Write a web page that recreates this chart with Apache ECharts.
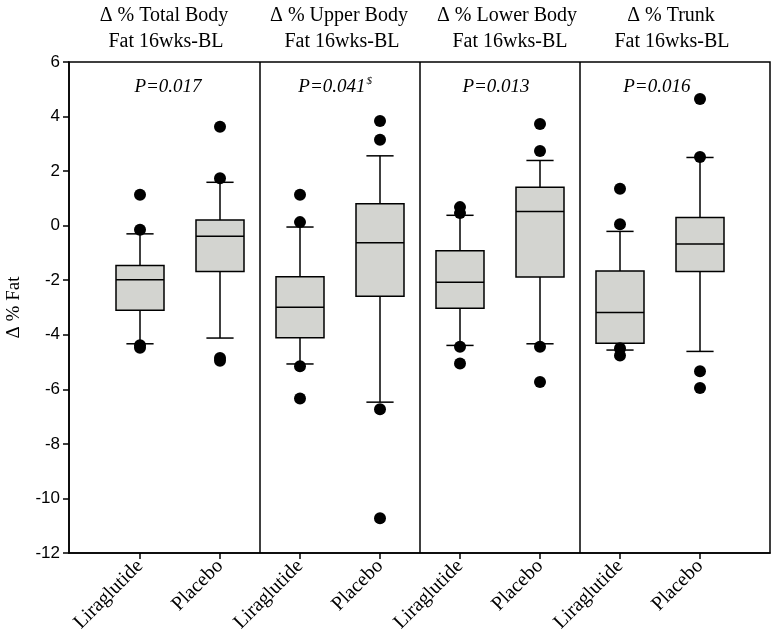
<!DOCTYPE html>
<html>
<head>
<meta charset="utf-8">
<script src="https://cdn.jsdelivr.net/npm/echarts@6/dist/echarts.min.js"></script>
<style>html,body{margin:0;padding:0;background:#fff}#c{width:772px;height:637px}</style>
</head>
<body>
<div id="c"></div>
<script>
// Categories (x positions 1..8)
var categories = ['Liraglutide','Placebo','Liraglutide','Placebo','Liraglutide','Placebo','Liraglutide','Placebo'];
// Box stats: [lowWhisker, Q1, median, Q3, highWhisker]
var boxStats = [
  [-4.33, -3.10, -1.98, -1.46, -0.30],
  [-4.12, -1.68, -0.39,  0.21,  1.59],
  [-5.07, -4.11, -2.99, -1.87, -0.05],
  [-6.47, -2.59, -0.63,  0.80,  2.56],
  [-4.39, -3.03, -2.07, -0.92,  0.38],
  [-4.33, -1.88,  0.52,  1.41,  2.39],
  [-4.56, -4.31, -3.18, -1.66, -0.21],
  [-4.61, -1.68, -0.67,  0.30,  2.50]
];
// Outliers per category
var outliers = [
  [1.13, -0.15, -4.38, -4.48],
  [3.63, 1.74, -4.85, -4.95],
  [1.13, 0.13, -5.15, -6.34],
  [3.84, 3.15, -6.73, -10.73],
  [0.68, 0.46, -4.44, -5.05],
  [3.73, 2.74, -4.44, -5.73],
  [1.35, 0.05, -4.49, -4.76],
  [4.64, 2.52, -5.34, -5.95]
];
var panelTitles = [
  ['\u0394 % Total Body', 'Fat 16wks-BL'],
  ['\u0394 % Upper Body', 'Fat 16wks-BL'],
  ['\u0394 % Lower Body', 'Fat 16wks-BL'],
  ['\u0394 % Trunk', 'Fat 16wks-BL']
];
var pValues = ['P=0.017', 'P=0.041', 'P=0.013', 'P=0.016'];
var pSup = ['', '$', '', ''];
var pX = [1.35, 3.44, 5.45, 7.46];
var pY = 5.12;
var separators = [2.5, 4.5, 6.5];
var yTicks = {min: -12, max: 6, interval: 2};

var boxData = boxStats.map(function(s, i){ return [i + 1].concat(s); });
var outData = [];
outliers.forEach(function(arr, i){ arr.forEach(function(v){ outData.push([i + 1, v]); }); });
var pData = pValues.map(function(p, i){ return [pX[i], pY, p, pSup[i]]; });

var chart = echarts.init(document.getElementById('c'));
var serif = '"Liberation Serif", "DejaVu Serif", serif';
var sans = '"Liberation Sans", Arial, sans-serif';

var graphics = [];
var titleX = [[164, 166], [339, 342], [507, 510], [671, 672]];
panelTitles.forEach(function(t, i){
  graphics.push({type:'text', x: titleX[i][0], y: 16, style:{text: t[0], font: '20px ' + serif, fill:'#000', textAlign:'center', textVerticalAlign:'middle'}});
  graphics.push({type:'text', x: titleX[i][1], y: 42, style:{text: t[1], font: '20px ' + serif, fill:'#000', textAlign:'center', textVerticalAlign:'middle'}});
});

chart.setOption({
  backgroundColor: '#ffffff',
  animation: false,
  grid: {left: 69, right: 2, top: 62, bottom: 84, containLabel: false, outerBoundsMode: 'none', show: true, borderColor: '#000', borderWidth: 1.5, backgroundColor: 'transparent'},
  xAxis: {
    type: 'value', min: 0.1125, max: 8.875,
    splitLine: {show: false},
    axisLine: {show: true, onZero: false, lineStyle: {color: '#000', width: 1.5}},
    axisTick: {show: true, customValues: [1,2,3,4,5,6,7,8], length: 6, lineStyle: {color: '#000', width: 1.5}},
    axisLabel: {show: true, customValues: [1,2,3,4,5,6,7,8], rotate: 45, margin: 10, color: '#000', fontFamily: serif, fontSize: 20,
      formatter: function(v){ return categories[Math.round(v) - 1] || ''; }}
  },
  yAxis: {
    type: 'value', min: yTicks.min, max: yTicks.max, interval: yTicks.interval,
    name: '\u0394 % Fat', nameLocation: 'middle', nameGap: 45, nameRotate: 90,
    nameTextStyle: {fontFamily: serif, fontSize: 19, color: '#000'},
    splitLine: {show: false},
    axisLine: {show: true, lineStyle: {color: '#000', width: 1.5}},
    axisTick: {show: true, length: 6, lineStyle: {color: '#000', width: 1.5}},
    axisLabel: {color: '#000', fontFamily: sans, fontSize: 17, margin: 9}
  },
  graphic: graphics,
  series: [
    {
      type: 'custom',
      data: boxData,
      encode: {x: 0, y: [1,2,3,4,5]},
      z: 2,
      renderItem: function(params, api){
        var x = api.value(0);
        var lo = api.coord([x, api.value(1)]);
        var q1 = api.coord([x, api.value(2)]);
        var md = api.coord([x, api.value(3)]);
        var q3 = api.coord([x, api.value(4)]);
        var hi = api.coord([x, api.value(5)]);
        var bw = api.size([0.6, 0])[0];
        var cw = api.size([0.34, 0])[0];
        var ls = {stroke: '#000', lineWidth: 1.5};
        var cx = lo[0];
        return {type: 'group', children: [
          {type:'line', shape:{x1:cx, y1:hi[1], x2:cx, y2:q3[1]}, style: ls},
          {type:'line', shape:{x1:cx, y1:q1[1], x2:cx, y2:lo[1]}, style: ls},
          {type:'line', shape:{x1:cx - cw/2, y1:hi[1], x2:cx + cw/2, y2:hi[1]}, style: ls},
          {type:'line', shape:{x1:cx - cw/2, y1:lo[1], x2:cx + cw/2, y2:lo[1]}, style: ls},
          {type:'rect', shape:{x: cx - bw/2, y: q3[1], width: bw, height: q1[1] - q3[1]}, style:{fill:'#d3d4d0', stroke:'#000', lineWidth: 1.5}},
          {type:'line', shape:{x1:cx - bw/2, y1:md[1], x2:cx + bw/2, y2:md[1]}, style: ls}
        ]};
      }
    },
    {
      type: 'scatter',
      data: outData,
      symbol: 'circle',
      symbolSize: 12,
      itemStyle: {color: '#000', opacity: 1},
      z: 3,
      markLine: {
        silent: true, symbol: 'none',
        label: {show: false},
        lineStyle: {color: '#000', width: 1.5, type: 'solid', opacity: 1},
        data: separators.map(function(s){ return {xAxis: s}; })
      }
    },
    {
      type: 'scatter',
      data: pData,
      symbolSize: 0,
      silent: true,
      z: 4,
      itemStyle: {opacity: 1},
      label: {
        show: true, position: 'inside', opacity: 1,
        formatter: function(p){ return '{m|' + p.data[2] + '}' + (p.data[3] ? '{s|' + p.data[3] + '}' : ''); },
        rich: {
          m: {fontFamily: serif, fontStyle: 'italic', fontSize: 19, color: '#000', verticalAlign: 'bottom', lineHeight: 20},
          s: {fontFamily: serif, fontStyle: 'italic', fontSize: 11, color: '#000', verticalAlign: 'top', padding: [0,0,8,1], lineHeight: 20}
        }
      }
    }
  ]
});
</script>
</body>
</html>
